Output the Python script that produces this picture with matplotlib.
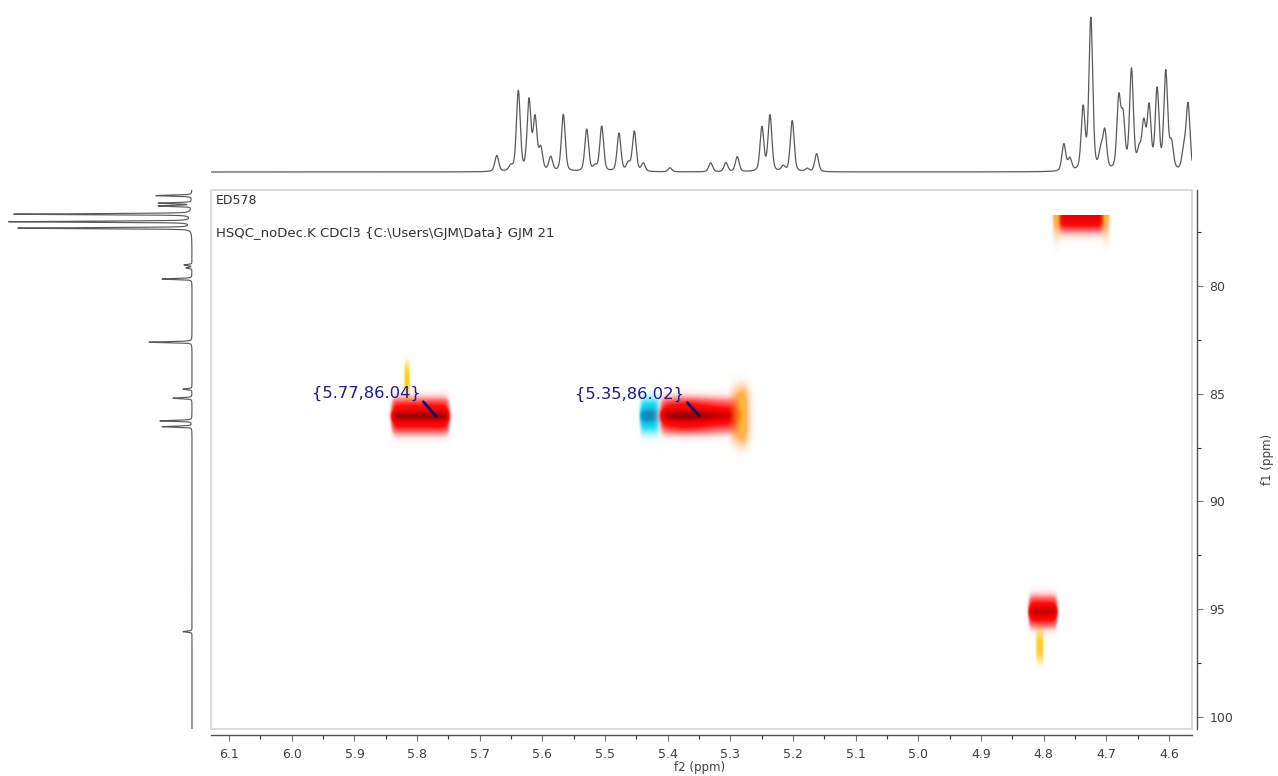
import numpy as np
import matplotlib
matplotlib.use("Agg")
import matplotlib.pyplot as plt
from matplotlib.colors import LinearSegmentedColormap
from matplotlib.patches import Rectangle
from matplotlib.ticker import MultipleLocator, FormatStrFormatter

# 1H projection (top trace): peak positions (ppm) and heights
h_ppm = [5.6728, 5.6505, 5.6384, 5.6213, 5.6117, 5.6026, 5.5867, 5.5666, 5.5292, 5.5160,
         5.5053, 5.4777, 5.4629, 5.4533, 5.4389, 5.3963, 5.3314, 5.3070, 5.2889, 5.2495,
         5.2367, 5.2155, 5.2012, 5.1772, 5.1622,
         4.7676, 4.7580, 4.7368, 4.7245, 4.7086, 4.7022, 4.6799, 4.6730, 4.6596, 4.6475,
         4.6400, 4.6315, 4.6187, 4.6049, 4.5958, 4.5761, 4.5693]
h_int = [16, 5, 80, 70, 52, 22, 14, 57, 42, 5,
         45, 38, 8, 40, 8, 4, 9, 9, 15, 44,
         56, 5, 51, 3, 18,
         27, 12, 62, 152, 18, 38, 70, 50, 100, 18,
         45, 62, 80, 98, 26, 20, 66]

# 13C projection (left trace): peak positions (ppm) and heights
c_ppm = [75.81, 76.16, 76.29, 76.67, 77.02, 77.32, 79.03, 79.16, 79.68,
         82.61, 84.79, 85.21, 86.26, 86.53, 96.04]
c_int = [36, 33, 33, 178, 183, 174, 8, 6, 30,
         43, 9, 19, 32, 30, 9]

# HSQC cross peaks (f2 range, f1 range)
xp_f2_lo = [5.749, 5.2766, 4.697, 4.779]
xp_f2_hi = [5.8415, 5.4442, 4.785, 4.825]
xp_f1_c = [86.04, 86.02, 76.71, 95.13]

# picked peaks
pick_f2 = [5.77, 5.35]
pick_f1 = [86.04, 86.02]

x_lim = (6.129, 4.563)
y_lim = (100.56, 75.55)


def shape(x, pos, amp, hw):
    out = np.zeros_like(x)
    for p, a in zip(pos, amp):
        lor = hw ** 2 / ((x - p) ** 2 + hw ** 2)
        gau = np.exp(-np.log(2) * ((x - p) / hw) ** 2)
        out += a * (0.35 * lor + 0.65 * gau)
    return out


def sbox(u, lo, hi, e):
    return 0.5 * (np.tanh((u - lo) / e) - np.tanh((u - hi) / e))


W, H = 1278, 776
fig = plt.figure(figsize=(W / 100, H / 100), dpi=100)

L, R = 211 / W, 1192 / W
B, T = 1 - 729 / H, 1 - 190 / H
ax = fig.add_axes([L, B, R - L, T - B])
ax_top = fig.add_axes([L, T, R - L, (190 - 3) / H])
ax_left = fig.add_axes([0, B, 197 / W, T - B])

# ---- top 1H trace
xs = np.linspace(x_lim[0], x_lim[1], 6000)
ax_top.plot(xs, shape(xs, h_ppm, h_int, 0.0036), color="#5a5a5a", lw=0.9)
ax_top.set_xlim(*x_lim)
ax_top.set_ylim(-18, 169)
ax_top.axis("off")

# ---- left 13C trace
ys = np.linspace(y_lim[1], y_lim[0], 6000)
ax_left.plot(shape(ys, c_ppm, c_int, 0.028), ys, color="#5a5a5a", lw=0.85)
ax_left.set_xlim(192, -5)
ax_left.set_ylim(*y_lim)
ax_left.axis("off")

# ---- 2D map (one cell per output pixel)
f2 = np.linspace(x_lim[0], x_lim[1], 981)
f1 = np.linspace(y_lim[1], y_lim[0], 539)
F2, F1 = np.meshgrid(f2, f1)
red = np.zeros_like(F2)
yel = np.zeros_like(F2)
org = np.zeros_like(F2)
cya = np.zeros_like(F2)


def f1_profile(c, half, edge, core):
    return 0.68 * sbox(F1, c - half, c + half, edge) + core * np.exp(-((F1 - c) / 0.25) ** 2)


# peak A
prof = f1_profile(xp_f1_c[0], 0.8, 0.45, 0.34)
red += sbox(F2, xp_f2_lo[0], xp_f2_hi[0], 0.005) * prof
yel += sbox(F2, 5.812, 5.821, 0.002) * sbox(F1, 83.6, 85.4, 0.4)

# peak B
prof = f1_profile(xp_f1_c[1], 0.8, 0.45, 0.34)
red += sbox(F2, 5.284, 5.4123, 0.006) * prof * (0.85 + 0.2 * np.exp(-((F2 - 5.37) / 0.04) ** 2))
org += sbox(F2, xp_f2_lo[1], 5.305, 0.008) * sbox(F1, 84.8, 87.25, 0.4) * \
    np.clip((5.306 - F2) / 0.028, 0, 1)
cya += sbox(F2, 5.4123, xp_f2_hi[1], 0.004) * prof * 1.15

# peak C (top right)
c = xp_f1_c[2]
cprof = (F1 > c) * np.exp(-((F1 - c) / 0.85) ** 2)
red += sbox(F2, xp_f2_lo[2] + 0.007, xp_f2_hi[2] - 0.007, 0.005) * cprof * 0.75
org += (sbox(F2, xp_f2_lo[2], xp_f2_lo[2] + 0.01, 0.003)
        + sbox(F2, xp_f2_hi[2] - 0.01, xp_f2_hi[2], 0.003)) * cprof * 0.7

# peak D
prof = f1_profile(xp_f1_c[3], 0.7, 0.45, 0.25)
red += sbox(F2, xp_f2_lo[3], xp_f2_hi[3], 0.004) * prof
yel += sbox(F2, 4.801, 4.813, 0.002) * sbox(F1, 95.8, 97.4, 0.4)

cm_red = LinearSegmentedColormap.from_list("r", [
    (0.0, (1, 1, 1, 0)), (0.15, (1, 0.85, 0.85, 0.45)), (0.35, (1, 0.45, 0.45, 0.9)),
    (0.55, (1, 0.05, 0.05, 1)), (0.8, (0.88, 0, 0, 1)), (1.0, (0.6, 0, 0.03, 1))])
cm_yel = LinearSegmentedColormap.from_list("y", [
    (0.0, (1, 1, 1, 0)), (0.4, (1, 0.9, 0.4, 0.6)), (1.0, (1, 0.78, 0.05, 1))])
cm_org = LinearSegmentedColormap.from_list("o", [
    (0.0, (1, 0.5, 0.1, 0)), (0.5, (1, 0.6, 0.1, 0.75)), (1.0, (1, 0.85, 0.15, 1))])
cm_cya = LinearSegmentedColormap.from_list("c", [
    (0.0, (1, 1, 1, 0)), (0.3, (0.6, 0.95, 1, 0.7)), (0.6, (0.1, 0.85, 0.95, 1)),
    (1.0, (0.05, 0.55, 0.75, 1))])

ext = (x_lim[0], x_lim[1], y_lim[0], y_lim[1])
for fld, cm in [(yel, cm_yel), (cya, cm_cya), (red, cm_red), (org, cm_org)]:
    ax.imshow(np.clip(fld, 0, 1), cmap=cm, vmin=0, vmax=1, extent=ext,
              origin="upper", aspect="auto", interpolation="nearest")

ax.set_xlim(*x_lim)
ax.set_ylim(*y_lim)

# frame + offset axes
ax.add_patch(Rectangle((0, 0), 1, 1, transform=ax.transAxes, fill=False,
                       ec="#d4d4d4", lw=1.2, clip_on=False, zorder=5))
for s in ["top", "left"]:
    ax.spines[s].set_visible(False)
ax.spines["bottom"].set_position(("outward", 4.5))
ax.spines["right"].set_position(("outward", 3.6))
for s in ["bottom", "right"]:
    ax.spines[s].set_color("#505050")
    ax.spines[s].set_linewidth(1.0)

ax.yaxis.tick_right()
ax.xaxis.set_major_locator(MultipleLocator(0.1))
ax.xaxis.set_minor_locator(MultipleLocator(0.05))
ax.yaxis.set_major_locator(MultipleLocator(5))
ax.yaxis.set_minor_locator(MultipleLocator(2.5))
ax.xaxis.set_major_formatter(FormatStrFormatter("%.1f"))
ax.yaxis.set_major_formatter(FormatStrFormatter("%d"))
ax.tick_params(which="major", length=4, width=0.8, color="#707070",
               labelsize=9, labelcolor="#404040", pad=5)
ax.tick_params(which="minor", length=3, width=0.8, color="#303030")

fig.text(700 / W, 1 - 768 / H, "f2 (ppm)", ha="center", va="center",
         fontsize=8.5, color="#404040")
fig.text(1268 / W, 1 - 459 / H, "f1 (ppm)", ha="center", va="center",
         rotation=90, fontsize=8.5, color="#404040")

ax.text(216 / W, 1 - 200 / H, "ED578", transform=fig.transFigure,
        ha="left", va="center", fontsize=9, color="#303030")
ax.text(216 / W, 1 - 234 / H, r"HSQC_noDec.K CDCl3 {C:\Users\GJM\Data} GJM 21",
        transform=fig.transFigure, ha="left", va="center", fontsize=9.5, color="#303030")

offsets = [(-11.0, 16.4), (-10.5, 15.5)]
for x0, y0, off in zip(pick_f2, pick_f1, offsets):
    ax.annotate("{%.2f,%.2f}" % (x0, y0), xy=(x0, y0), xytext=off,
                textcoords="offset points", ha="right", va="center",
                fontsize=11.8, color="#1c1c8a",
                arrowprops=dict(arrowstyle="-", color="#0a0a70", lw=2,
                                shrinkA=0, shrinkB=0, relpos=(1.0, 0.15)))

fig.savefig("out.png", dpi=100)
